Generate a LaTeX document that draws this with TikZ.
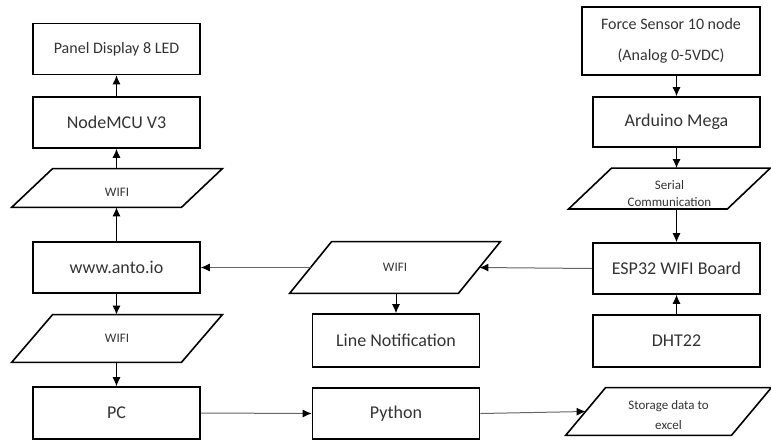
\documentclass[tikz,border=0pt]{standalone}
\usepackage{fontspec}
\setmainfont{Carlito}
\usetikzlibrary{positioning}
\usetikzlibrary{arrows.meta}

\begin{document}
\begin{tikzpicture}
    [
      x = 0.5pt, y = -0.5pt,
      box/.style = {draw, line width = 0.8pt, minimum width = 83.5pt, minimum height = 25.5pt,
          inner sep = 1pt, text = black!80, font = \fontsize{9}{11}\selectfont},
      datain/.style = {minimum width = 105pt, inner sep = 1pt, text = black!80, align = center,
          font = \fontsize{6.5}{9}\selectfont},
      outline/.style = {line width = 0.8pt},
      flow/.style = {-{Latex[length = 4.5pt, width = 4pt]}, line width = 0.5pt},
      link/.style = {-{Latex[length = 4.5pt, width = 4pt, black]}, line width = 0.5pt, draw = black!60},
    ]

    \useasboundingbox (0,0) rectangle (771,440);

    % left column
    \node[box, font = \fontsize{8}{10}\selectfont] (panel) at (116.5,49) {Panel Display 8 LED};
    \node[box] (nodemcu) at (116.5,122.5) {NodeMCU V3};
    \node[datain, minimum height = 19pt] (wifiA) at (117,188) {\rule{0pt}{8.5pt}WIFI};
    \node[box] (anto) at (116.5,267.5) {www.anto.io};
    \node[datain, minimum height = 23.5pt] (wifiB) at (117,338.5) {WIFI};
    \node[box, minimum height = 26pt] (pc) at (116.5,413) {PC};

    % middle column
    \node[datain, minimum height = 25.5pt] (wifiC) at (395,267.5) {WIFI};
    \node[box, minimum height = 26.5pt] (line) at (396,340.5) {Line Notification};
    \node[box] (python) at (396,413.5) {Python};

    % right column
    \node[box, minimum width = 89pt, minimum height = 34pt, align = center,
      font = \fontsize{8}{15.5}\selectfont] (force) at (671,41) {Force Sensor 10 node\\(Analog 0-5VDC)};
    \node[box, minimum height = 25pt] (arduino) at (676.5,122) {Arduino Mega};
    \node[datain, minimum width = 100.5pt, minimum height = 19.5pt,
      font = \fontsize{6.5}{8.5}\selectfont] (serial) at (669.5,188.5) {\rule{0pt}{9.5pt}Serial\\Communication};
    \node[box] (esp) at (676.5,268.5) {ESP32 WIFI Board};
    \node[box, minimum height = 26pt] (dht) at (676.5,341) {DHT22};
    \node[datain, minimum width = 102.5pt, minimum height = 23.5pt,
      font = \fontsize{6.5}{10}\selectfont] (storage) at (668.5,411.5) {\rule{0pt}{8.5pt}Storage data to\\excel};

    % slanted data boxes
    \foreach \n/\s in {wifiA/20.5pt, wifiB/20.5pt, wifiC/21pt, serial/21.5pt, storage/20pt}
      \draw[outline] (\n.south west) -- ([xshift = \s]\n.north west) -- (\n.north east)
        -- ([xshift = -\s]\n.south east) -- cycle;

    % vertical arrows
    \draw[flow] (nodemcu.north) -- (panel.south);
    \draw[flow] (wifiA.north -| nodemcu) -- (nodemcu.south);
    \draw[flow] (anto.north) -- (wifiA.south -| anto);
    \draw[flow] (anto.south) -- (wifiB.north -| anto);
    \draw[flow] (wifiB.south -| pc) -- (pc.north);
    \draw[flow] (wifiC.south -| line) -- (line.north);
    \draw[flow] (force.south -| arduino) -- (arduino.north);
    \draw[flow] (arduino.south) -- (serial.north -| arduino);
    \draw[flow] (serial.south -| esp) -- (esp.north);
    \draw[flow] (dht.north) -- (esp.south);

    % horizontal links
    \draw[link] (esp.west) -- ([xshift = -10.5pt]wifiC.east);
    \draw[link] ([xshift = 10.5pt]wifiC.west) -- (anto.east);
    \draw[link] (pc.east) -- (python.west);
    \draw[link] (python.east) -- ([xshift = 10pt]storage.west);

  \end{tikzpicture}
\end{document}
